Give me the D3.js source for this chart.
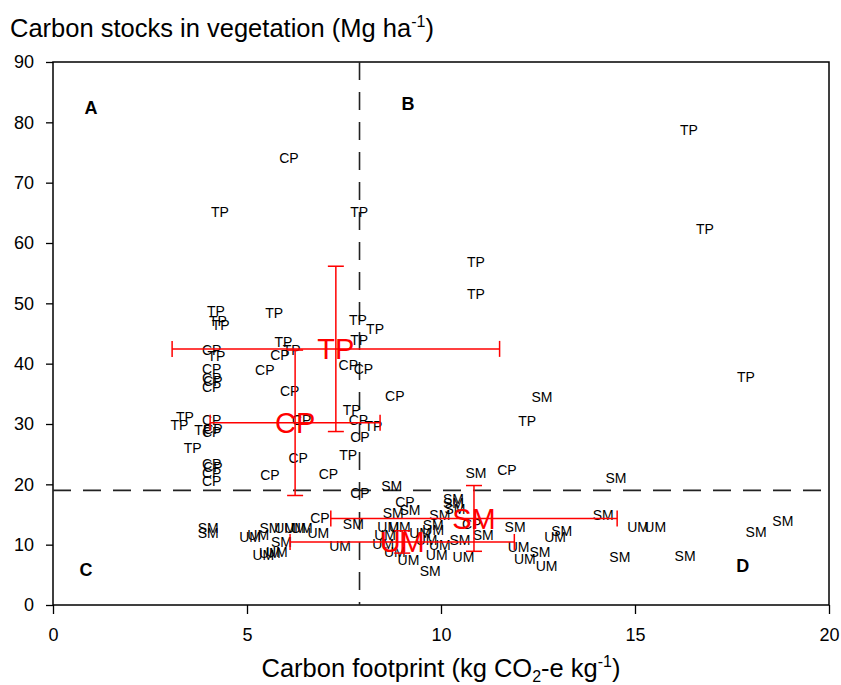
<!DOCTYPE html>
<html><head><meta charset="utf-8">
<script src="https://cdn.jsdelivr.net/npm/d3@7"></script>
<style>
body{margin:0;background:#fff;}
text{font-family:"Liberation Sans",Arial,Helvetica,sans-serif;}
</style></head>
<body><svg id="chart" width="841" height="685"></svg>
<script>
// ---- data ----
const tpX = [16.39,16.80,4.30,7.89,10.90,10.90,17.86,12.22,4.20,4.25,4.32,5.70,7.86,8.30,7.89,5.94,6.15,4.21,7.70,8.26,3.40,3.26,3.87,3.60,7.61];
const tpY = [78.7,62.3,65.1,65.1,56.9,51.5,37.8,30.5,48.7,47.1,46.4,48.4,47.2,45.7,43.9,43.6,42.3,41.3,32.4,29.7,31.1,29.8,29.0,26.0,24.9];
const cpX = [6.08,4.09,4.09,4.09,4.12,4.09,5.46,5.85,6.10,7.61,8.00,8.81,7.87,6.41,7.91,6.32,5.59,7.10,7.91,4.09,4.12,4.09,4.09,4.12,4.09,4.09,11.70,9.07,6.88,10.79];
const cpY = [74.1,42.2,39.1,37.6,37.1,36.2,39.0,41.4,35.4,39.8,39.1,34.6,30.7,30.7,27.9,24.3,21.5,21.7,18.5,30.7,29.2,28.6,23.4,22.8,21.9,20.5,22.4,17.1,14.4,13.5];
const smX = [14.51,10.90,8.73,9.20,8.77,10.32,10.32,10.36,9.97,9.80,11.09,10.49,9.72,11.91,13.11,12.55,14.18,14.61,16.29,18.12,18.81,12.60,4.00,4.00,5.59,5.89,7.74];
const smY = [21.0,21.9,19.7,15.7,15.2,17.5,16.9,16.0,14.9,13.3,11.6,10.8,5.6,13.0,12.2,8.8,14.9,8.0,8.2,12.1,13.9,34.5,12.8,11.9,12.7,10.5,13.5];
const umX = [7.40,5.08,5.29,5.98,6.24,6.41,6.84,5.42,5.59,5.77,8.64,8.94,8.56,8.51,8.81,9.16,9.46,9.80,9.63,9.97,9.89,10.58,12.00,12.16,12.72,12.94,15.08,15.52];
const umY = [9.8,11.3,11.6,12.7,12.7,12.7,11.9,8.3,8.6,8.8,13.0,13.0,11.6,10.2,8.8,7.4,11.9,12.4,10.8,9.9,8.3,8.0,9.6,7.7,6.5,11.3,12.9,12.9];

const meanCats = ["TP","CP","SM","UM"];
const meanX    = [7.29, 6.24, 10.85, 9.00];
const meanY    = [42.45, 30.2, 14.35, 10.45];
const meanXErr = [4.22, 2.19, 3.69, 2.89];
const meanYErr = [13.7, 12.05, 5.45, 1.85];

const quadLabels = ["A","B","C","D"];
const quadX = [0.98, 9.15, 0.85, 17.78];
const quadY = [82.5, 83.2, 5.8, 6.5];

const thresholdX = 7.9;
const thresholdY = 19;

const xTicks = [0,5,10,15,20];
const yTicks = [0,10,20,30,40,50,60,70,80,90];

// ---- layout ----
const svg = d3.select("#chart");
const L = 53, R = 829, T = 62, B = 605;
const x = d3.scaleLinear().domain([0,20]).range([L,R]);
const y = d3.scaleLinear().domain([0,90]).range([B,T]);

// axes
const xAxis = svg.append("g").attr("transform",`translate(0,${B})`)
  .call(d3.axisBottom(x).tickValues(xTicks).tickSize(9).tickPadding(14).tickSizeOuter(0));
const yAxis = svg.append("g").attr("transform",`translate(${L},0)`)
  .call(d3.axisLeft(y).tickValues(yTicks).tickSize(7).tickPadding(12).tickSizeOuter(0));
[xAxis,yAxis].forEach(a=>{
  a.select(".domain").remove();
  a.selectAll("line").attr("stroke","#000").attr("stroke-width",1.3);
  a.selectAll("text").attr("font-size",18).attr("fill","#000")
   .attr("font-family",'"Liberation Sans",Arial,sans-serif');
});

// frame
svg.append("rect").attr("x",L).attr("y",T).attr("width",R-L).attr("height",B-T)
  .attr("fill","none").attr("stroke","#000").attr("stroke-width",1.5);

// threshold dashed lines
svg.append("line").attr("x1",x(thresholdX)).attr("x2",x(thresholdX)).attr("y1",y(90)).attr("y2",y(0))
  .attr("stroke","#222").attr("stroke-width",1.6).attr("stroke-dasharray","18,12");
svg.append("line").attr("x1",x(0)).attr("x2",x(20)).attr("y1",y(thresholdY)).attr("y2",y(thresholdY))
  .attr("stroke","#222").attr("stroke-width",1.6).attr("stroke-dasharray","18,12");

// point labels
const groups = [["TP",tpX,tpY],["CP",cpX,cpY],["SM",smX,smY],["UM",umX,umY]];
const gPts = svg.append("g");
groups.forEach(([lab,xs,ys])=>{
  gPts.selectAll(null).data(xs.map((v,i)=>({x:v,y:ys[i]}))).enter().append("text")
    .attr("x",d=>x(d.x)).attr("y",d=>y(d.y)).attr("dy","0.36em")
    .attr("text-anchor","middle").attr("font-size",14).attr("fill","#000").text(lab);
});

// quadrant labels
svg.selectAll(null).data(quadLabels).enter().append("text")
  .attr("x",(d,i)=>x(quadX[i])).attr("y",(d,i)=>y(quadY[i])).attr("dy","0.36em")
  .attr("text-anchor","middle").attr("font-size",18).attr("font-weight","bold").text(d=>d);

// means with error bars
const red = "#ff0000", cap = 8;
const gM = svg.append("g").attr("stroke",red).attr("stroke-width",1.5);
meanCats.forEach((c,i)=>{
  const cx = x(meanX[i]), cy = y(meanY[i]);
  const x0 = x(meanX[i]-meanXErr[i]), x1 = x(meanX[i]+meanXErr[i]);
  const y0 = y(meanY[i]-meanYErr[i]), y1 = y(meanY[i]+meanYErr[i]);
  gM.append("line").attr("x1",x0).attr("x2",x1).attr("y1",cy).attr("y2",cy);
  gM.append("line").attr("x1",x0).attr("x2",x0).attr("y1",cy-cap).attr("y2",cy+cap);
  gM.append("line").attr("x1",x1).attr("x2",x1).attr("y1",cy-cap).attr("y2",cy+cap);
  gM.append("line").attr("x1",cx).attr("x2",cx).attr("y1",y0).attr("y2",y1);
  gM.append("line").attr("x1",cx-cap).attr("x2",cx+cap).attr("y1",y0).attr("y2",y0);
  gM.append("line").attr("x1",cx-cap).attr("x2",cx+cap).attr("y1",y1).attr("y2",y1);
});
svg.selectAll(null).data(meanCats).enter().append("text")
  .attr("x",(d,i)=>x(meanX[i])).attr("y",(d,i)=>y(meanY[i])).attr("dy","0.36em")
  .attr("text-anchor","middle").attr("font-size",29).attr("fill",red).text(d=>d);

// titles
const yt = svg.append("text").attr("x",10).attr("y",37).attr("font-size",25.5).attr("fill","#000");
yt.append("tspan").text("Carbon stocks in vegetation (Mg ha");
yt.append("tspan").attr("font-size",16).attr("dy",-10).text("-1");
yt.append("tspan").attr("dy",10).text(")");

const xt = svg.append("text").attr("x",441).attr("y",677).attr("text-anchor","middle").attr("font-size",25.5).attr("fill","#000");
xt.append("tspan").text("Carbon footprint (kg CO");
xt.append("tspan").attr("font-size",16).attr("dy",5).text("2");
xt.append("tspan").attr("dy",-5).text("-e kg");
xt.append("tspan").attr("font-size",16).attr("dy",-10).text("-1");
xt.append("tspan").attr("dy",10).text(")");
</script></body></html>
